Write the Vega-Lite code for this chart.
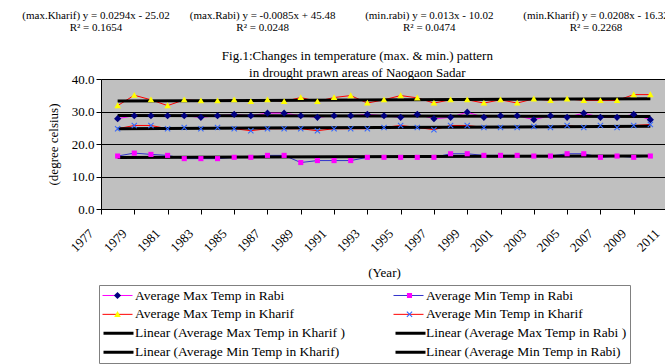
{
  "$schema": "https://vega.github.io/schema/vega-lite/v6.json",
  "padding": {"left": 22, "top": 4, "right": 0, "bottom": 0},
  "background": "white",
  "spacing": 16,
  "config": {
    "font": "Liberation Serif",
    "view": {"stroke": null},
    "axis": {
      "labelFont": "Liberation Serif", "titleFont": "Liberation Serif",
      "labelColor": "black", "titleColor": "black",
      "labelFontSize": 13, "titleFontSize": 13, "titleFontWeight": "normal",
      "tickColor": "black", "domainColor": "black", "tickSize": 5
    },
    "axisX": {"grid": false, "labelAngle": -45, "labelAlign": "right", "labelBaseline": "middle", "labelOffset": -10, "labelPadding": 17, "titlePadding": 12},
    "axisY": {"gridColor": "black", "gridOpacity": 1, "titlePadding": 11},
    "legend": {
      "orient": "none", "legendX": -2, "legendY": 281, "columns": 2, "rowPadding": 4, "padding": 3, "clipHeight": 14.7,
      "symbolSize": 900, "symbolOpacity": 1, "labelFont": "Liberation Serif", "labelFontSize": 13.5, "labelColor": "black", "labelLimit": 400, "labelOffset": 2
    }
  },
  "vconcat": [
    {
      "width": 500,
      "height": 23,
      "data": {"values": [
        {"eq": "maxK", "label": "(max.Kharif) y = 0.0294x - 25.02\nR² = 0.1654"},
        {"eq": "maxR", "label": "(max.Rabi) y = -0.0085x + 45.48\nR² = 0.0248"},
        {"eq": "minR", "label": "(min.rabi) y = 0.013x - 10.02\nR² = 0.0474"},
        {"eq": "minK", "label": "(min.Kharif) y = 0.0208x - 16.32\nR² = 0.2268"}
      ]},
      "mark": {"type": "text", "font": "Liberation Serif", "fontSize": 11, "lineBreak": "\n", "lineHeight": 12, "align": "center", "baseline": "middle", "color": "black", "dx": -5},
      "encoding": {
        "x": {"field": "eq", "type": "nominal", "scale": {"type": "point", "domain": ["maxK", "maxR", "minR", "minK"], "padding": 0}, "axis": null},
        "text": {"field": "label", "type": "nominal"}
      }
    },
    {
      "width": 566,
      "height": 130,
      "view": {"fill": "#C0C0C0", "stroke": "#808080", "strokeWidth": 1},
      "title": {
        "text": ["Fig.1:Changes in temperature (max. & min.) pattern", "in drought prawn areas of Naogaon Sadar"],
        "font": "Liberation Serif", "fontSize": 13, "fontWeight": "normal", "lineHeight": 17,
        "anchor": "middle", "frame": "bounds", "offset": -7, "color": "black"
      },
      "data": {"values": [
        {"year": 1978, "max_rabi": 27.8, "min_rabi": 16.3, "max_kharif": 31.8, "min_kharif": 24.7},
        {"year": 1979, "max_rabi": 28.7, "min_rabi": 17.2, "max_kharif": 35.0, "min_kharif": 25.7},
        {"year": 1980, "max_rabi": 28.7, "min_rabi": 16.8, "max_kharif": 33.6, "min_kharif": 25.7},
        {"year": 1981, "max_rabi": 28.7, "min_rabi": 16.5, "max_kharif": 31.8, "min_kharif": 24.7},
        {"year": 1982, "max_rabi": 28.7, "min_rabi": 15.5, "max_kharif": 33.6, "min_kharif": 25.1},
        {"year": 1983, "max_rabi": 28.2, "min_rabi": 15.5, "max_kharif": 33.3, "min_kharif": 24.7},
        {"year": 1984, "max_rabi": 28.7, "min_rabi": 15.5, "max_kharif": 33.3, "min_kharif": 25.1},
        {"year": 1985, "max_rabi": 29.1, "min_rabi": 15.9, "max_kharif": 33.6, "min_kharif": 24.7},
        {"year": 1986, "max_rabi": 28.7, "min_rabi": 15.9, "max_kharif": 33.1, "min_kharif": 24.1},
        {"year": 1987, "max_rabi": 29.5, "min_rabi": 16.5, "max_kharif": 33.6, "min_kharif": 24.7},
        {"year": 1988, "max_rabi": 29.5, "min_rabi": 16.5, "max_kharif": 33.1, "min_kharif": 24.7},
        {"year": 1989, "max_rabi": 28.7, "min_rabi": 14.3, "max_kharif": 34.3, "min_kharif": 24.7},
        {"year": 1990, "max_rabi": 28.2, "min_rabi": 14.9, "max_kharif": 33.1, "min_kharif": 24.1},
        {"year": 1991, "max_rabi": 28.7, "min_rabi": 14.9, "max_kharif": 34.3, "min_kharif": 24.7},
        {"year": 1992, "max_rabi": 28.7, "min_rabi": 14.9, "max_kharif": 34.9, "min_kharif": 24.7},
        {"year": 1993, "max_rabi": 29.1, "min_rabi": 15.9, "max_kharif": 32.6, "min_kharif": 24.7},
        {"year": 1994, "max_rabi": 28.7, "min_rabi": 15.9, "max_kharif": 33.6, "min_kharif": 25.1},
        {"year": 1995, "max_rabi": 28.2, "min_rabi": 15.9, "max_kharif": 34.9, "min_kharif": 25.7},
        {"year": 1996, "max_rabi": 29.1, "min_rabi": 15.9, "max_kharif": 34.2, "min_kharif": 25.1},
        {"year": 1997, "max_rabi": 27.8, "min_rabi": 15.9, "max_kharif": 32.6, "min_kharif": 24.4},
        {"year": 1998, "max_rabi": 28.2, "min_rabi": 17.0, "max_kharif": 33.6, "min_kharif": 25.7},
        {"year": 1999, "max_rabi": 29.8, "min_rabi": 17.0, "max_kharif": 33.6, "min_kharif": 25.7},
        {"year": 2000, "max_rabi": 28.2, "min_rabi": 16.5, "max_kharif": 32.6, "min_kharif": 25.1},
        {"year": 2001, "max_rabi": 28.7, "min_rabi": 16.5, "max_kharif": 33.6, "min_kharif": 25.1},
        {"year": 2002, "max_rabi": 28.7, "min_rabi": 16.5, "max_kharif": 32.6, "min_kharif": 25.1},
        {"year": 2003, "max_rabi": 27.5, "min_rabi": 16.3, "max_kharif": 33.9, "min_kharif": 25.4},
        {"year": 2004, "max_rabi": 28.7, "min_rabi": 16.3, "max_kharif": 33.4, "min_kharif": 25.1},
        {"year": 2005, "max_rabi": 28.2, "min_rabi": 17.0, "max_kharif": 33.9, "min_kharif": 25.7},
        {"year": 2006, "max_rabi": 29.5, "min_rabi": 17.0, "max_kharif": 33.4, "min_kharif": 25.1},
        {"year": 2007, "max_rabi": 28.2, "min_rabi": 15.9, "max_kharif": 33.4, "min_kharif": 25.7},
        {"year": 2008, "max_rabi": 28.2, "min_rabi": 16.3, "max_kharif": 33.4, "min_kharif": 25.1},
        {"year": 2009, "max_rabi": 29.1, "min_rabi": 15.9, "max_kharif": 35.2, "min_kharif": 25.7},
        {"year": 2010, "max_rabi": 27.5, "min_rabi": 16.3, "max_kharif": 35.2, "min_kharif": 26.0}
      ]},
      "encoding": {
        "x": {
          "field": "year", "type": "quantitative",
          "scale": {"domain": [1977, 2011], "nice": false, "zero": false},
          "axis": {"values": [1977, 1979, 1981, 1983, 1985, 1987, 1989, 1991, 1993, 1995, 1997, 1999, 2001, 2003, 2005, 2007, 2009, 2011], "format": "d"},
          "title": "(Year)"
        }
      },
      "layer": [
        {
          "transform": [{"fold": ["max_rabi", "min_rabi", "max_kharif", "min_kharif"], "as": ["series", "temp"]}],
          "mark": {"type": "line", "strokeWidth": 1},
          "encoding": {
            "y": {"field": "temp", "type": "quantitative", "scale": {"domain": [0, 40], "nice": false, "zero": true}, "axis": {"values": [0, 10, 20, 30, 40], "format": ".1f"}, "title": "(degree celsius)"},
            "stroke": {
              "field": "series", "type": "nominal",
              "scale": {
                "domain": ["max_rabi", "max_kharif", "min_rabi", "min_kharif", "t_max_kharif", "t_min_kharif", "t_max_rabi", "t_min_rabi"],
                "range": ["#FF00FF", "#FF0000", "#3333CC", "#FF0000", "transparent", "transparent", "transparent", "transparent"]
              },
              "legend": {
                "title": null, "symbolType": "stroke", "symbolStrokeWidth": 1, "strokeColor": "#808080", "columnPadding": 47,
                "values": ["max_rabi", "max_kharif", "t_max_kharif", "t_min_kharif", "min_rabi", "min_kharif", "t_max_rabi", "t_min_rabi"],
                "labelExpr": "datum.label == 'max_rabi' ? 'Average Max Temp in Rabi' : datum.label == 'min_rabi' ? 'Average Min Temp in Rabi' : datum.label == 'max_kharif' ? 'Average Max Temp in Kharif' : datum.label == 'min_kharif' ? 'Average Min Temp in Kharif' : datum.label == 't_max_kharif' ? 'Linear (Average Max Temp in Kharif )' : datum.label == 't_max_rabi' ? 'Linear (Average Max Temp in Rabi )' : datum.label == 't_min_kharif' ? 'Linear (Average Min Temp in Kharif)' : 'Linear (Average Min Temp in Rabi)'"
              }
            }
          }
        },
        {
          "transform": [{"regression": "max_kharif", "on": "year"}],
          "mark": {"type": "line", "strokeWidth": 3},
          "encoding": {
            "y": {"field": "max_kharif", "type": "quantitative", "axis": {"values": [0, 10, 20, 30, 40], "format": ".1f"}, "title": "(degree celsius)"},
            "color": {
              "datum": "t_max_kharif", "type": "nominal",
              "scale": {
                "domain": ["t_max_kharif", "t_max_rabi", "t_min_kharif", "t_min_rabi", "max_rabi", "min_rabi", "max_kharif", "min_kharif"],
                "range": ["#000000", "#000000", "#000000", "#000000", "transparent", "transparent", "transparent", "transparent"]
              },
              "legend": {
                "title": null, "symbolType": "M-1,0H1M0,-0.37M0,0.37", "symbolStrokeWidth": 3, "columnPadding": 257, "labelExpr": "''",
                "values": ["max_rabi", "max_kharif", "t_max_kharif", "t_min_kharif", "min_rabi", "min_kharif", "t_max_rabi", "t_min_rabi"]
              }
            }
          }
        },
        {
          "transform": [{"regression": "max_rabi", "on": "year"}],
          "mark": {"type": "line", "strokeWidth": 3},
          "encoding": {
            "y": {"field": "max_rabi", "type": "quantitative", "axis": {"values": [0, 10, 20, 30, 40], "format": ".1f"}, "title": "(degree celsius)"},
            "color": {"datum": "t_max_rabi", "type": "nominal"}
          }
        },
        {
          "transform": [{"regression": "min_kharif", "on": "year"}],
          "mark": {"type": "line", "strokeWidth": 3},
          "encoding": {
            "y": {"field": "min_kharif", "type": "quantitative", "axis": {"values": [0, 10, 20, 30, 40], "format": ".1f"}, "title": "(degree celsius)"},
            "color": {"datum": "t_min_kharif", "type": "nominal"}
          }
        },
        {
          "transform": [{"regression": "min_rabi", "on": "year"}],
          "mark": {"type": "line", "strokeWidth": 3},
          "encoding": {
            "y": {"field": "min_rabi", "type": "quantitative", "axis": {"values": [0, 10, 20, 30, 40], "format": ".1f"}, "title": "(degree celsius)"},
            "color": {"datum": "t_min_rabi", "type": "nominal"}
          }
        },
        {
          "transform": [{"fold": ["max_rabi", "min_rabi", "max_kharif", "min_kharif"], "as": ["series", "temp"]}],
          "mark": {"type": "point", "filled": true, "size": 900, "opacity": 1, "strokeWidth": 0},
          "encoding": {
            "y": {"field": "temp", "type": "quantitative", "axis": {"values": [0, 10, 20, 30, 40], "format": ".1f"}, "title": "(degree celsius)"},
            "fill": {
              "field": "series", "type": "nominal",
              "scale": {
                "domain": ["max_rabi", "min_rabi", "max_kharif", "min_kharif", "t_max_kharif", "t_min_kharif", "t_max_rabi", "t_min_rabi"],
                "range": ["#000080", "#FF00FF", "#FFFF00", "#3366FF", "transparent", "transparent", "transparent", "transparent"]
              },
              "legend": {
                "title": null, "symbolStrokeWidth": 1, "symbolStrokeColor": "transparent", "columnPadding": 259, "labelExpr": "''",
                "values": ["max_rabi", "max_kharif", "t_max_kharif", "t_min_kharif", "min_rabi", "min_kharif", "t_max_rabi", "t_min_rabi"]
              }
            },
            "shape": {
              "field": "series", "type": "nominal",
              "scale": {
                "domain": ["max_rabi", "min_rabi", "max_kharif", "min_kharif", "t_max_kharif", "t_min_kharif", "t_max_rabi", "t_min_rabi"],
                "range": [
                  "M0,-0.24L0.24,0L0,0.24L-0.24,0ZM0,-0.44M0,0.44",
                  "M-0.17,-0.17H0.17V0.17H-0.17ZM0,-0.44M0,0.44",
                  "M0,-0.22L0.22,0.17L-0.22,0.17ZM0,-0.44M0,0.44",
                  "M-0.2,-0.15L-0.15,-0.2L0,-0.05L0.15,-0.2L0.2,-0.15L0.05,0L0.2,0.15L0.15,0.2L0,0.05L-0.15,0.2L-0.2,0.15L-0.05,0ZM0,-0.44M0,0.44",
                  "M0,-0.44M0,0.44",
                  "M0,-0.44M0,0.44",
                  "M0,-0.44M0,0.44",
                  "M0,-0.44M0,0.44"
                ]
              },
              "legend": {
                "title": null, "symbolStrokeWidth": 1, "symbolStrokeColor": "transparent", "columnPadding": 259, "labelExpr": "''",
                "values": ["max_rabi", "max_kharif", "t_max_kharif", "t_min_kharif", "min_rabi", "min_kharif", "t_max_rabi", "t_min_rabi"]
              }
            }
          }
        }
      ]
    }
  ]
}
